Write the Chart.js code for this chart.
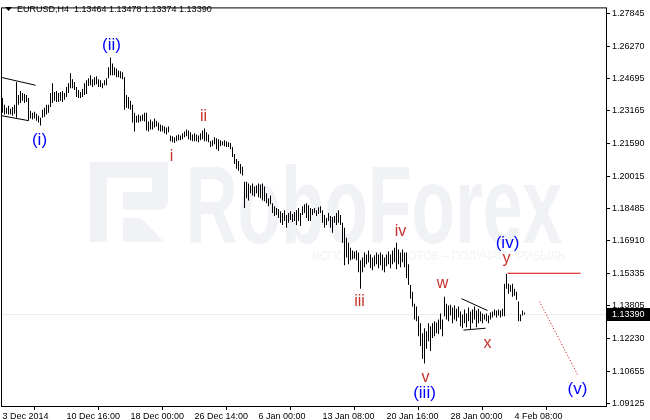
<!DOCTYPE html>
<html>
<head>
<meta charset="utf-8">
<script src="https://cdn.jsdelivr.net/npm/chart.js@4.4.0/dist/chart.umd.min.js"></script>
<style>
  html, body { margin: 0; padding: 0; background: #fff; }
  #wrap { width: 650px; height: 420px; }
</style>
</head>
<body>
<div id="wrap"><canvas id="chart" width="650" height="420"></canvas></div>
<script>
// EURUSD H4 bars (high / low of each bar, oldest first)
var barHigh = [
  1.2378,1.2345,1.2331,1.2340,1.2326,1.2335,1.2345,1.2454,1.2392,1.2411,
  1.2402,1.2397,1.2392,1.2378,1.2317,1.2307,1.2312,1.2302,1.2293,1.2283,
  1.2321,1.2331,1.2345,1.2345,1.2402,1.2449,1.2406,1.2411,1.2402,1.2406,
  1.2411,1.2402,1.2430,1.2449,1.2496,1.2468,1.2454,1.2430,1.2416,1.2406,
  1.2421,1.2449,1.2463,1.2473,1.2487,1.2468,1.2477,1.2482,1.2468,1.2463,
  1.2449,1.2463,1.2473,1.2525,1.2572,1.2543,1.2525,1.2520,1.2510,1.2506,
  1.2501,1.2477,1.2392,1.2383,1.2364,1.2345,1.2307,1.2293,1.2298,1.2293,
  1.2298,1.2307,1.2307,1.2265,1.2274,1.2265,1.2279,1.2269,1.2260,1.2250,
  1.2246,1.2241,1.2236,1.2241,1.2198,1.2194,1.2189,1.2198,1.2203,1.2198,
  1.2208,1.2217,1.2227,1.2222,1.2213,1.2203,1.2208,1.2203,1.2198,1.2208,
  1.2222,1.2231,1.2213,1.2203,1.2170,1.2175,1.2189,1.2184,1.2179,1.2175,
  1.2170,1.2175,1.2170,1.2165,1.2161,1.2142,1.2109,1.2085,1.2075,1.2061,
  1.2047,1.1976,1.1976,1.1967,1.1957,1.1967,1.1953,1.1957,1.1967,1.1962,
  1.1967,1.1953,1.1920,1.1896,1.1910,1.1872,1.1858,1.1849,1.1844,1.1834,
  1.1825,1.1839,1.1816,1.1825,1.1834,1.1820,1.1830,1.1839,1.1849,1.1825,
  1.1858,1.1868,1.1872,1.1863,1.1849,1.1844,1.1849,1.1839,1.1853,1.1858,
  1.1839,1.1816,1.1801,1.1825,1.1811,1.1806,1.1811,1.1825,1.1839,1.1816,
  1.1778,1.1754,1.1707,1.1683,1.1659,1.1645,1.1641,1.1645,1.1636,1.1598,
  1.1612,1.1636,1.1626,1.1645,1.1626,1.1612,1.1622,1.1636,1.1626,1.1636,
  1.1626,1.1612,1.1626,1.1641,1.1626,1.1645,1.1659,1.1683,1.1650,1.1636,
  1.1650,1.1636,1.1636,1.1579,1.1480,1.1447,1.1390,1.1376,1.1329,1.1296,
  1.1248,1.1272,1.1258,1.1296,1.1281,1.1296,1.1305,1.1300,1.1314,1.1343,
  1.1314,1.1423,1.1390,1.1381,1.1385,1.1371,1.1381,1.1366,1.1376,1.1352,
  1.1338,1.1362,1.1343,1.1371,1.1352,1.1362,1.1376,1.1357,1.1366,1.1352,
  1.1343,1.1338,1.1343,1.1333,1.1348,1.1352,1.1362,1.1357,1.1362,1.1357,
  1.1366,1.1485,1.1532,1.1485,1.1480,1.1485,1.1461,1.1447,1.1400,1.1338,
  1.1357,1.13478
];
var barLow = [
  1.2307,1.2298,1.2302,1.2298,1.2298,1.2293,1.2302,1.2283,1.2345,1.2354,
  1.2364,1.2354,1.2359,1.2269,1.2279,1.2274,1.2279,1.2269,1.2260,1.2246,
  1.2283,1.2288,1.2298,1.2307,1.2335,1.2354,1.2364,1.2359,1.2359,1.2364,
  1.2359,1.2369,1.2383,1.2402,1.2425,1.2425,1.2416,1.2383,1.2378,1.2378,
  1.2383,1.2392,1.2397,1.2435,1.2439,1.2430,1.2439,1.2444,1.2430,1.2430,
  1.2425,1.2439,1.2439,1.2473,1.2487,1.2487,1.2487,1.2477,1.2477,1.2473,
  1.2468,1.2321,1.2331,1.2326,1.2321,1.2260,1.2217,1.2260,1.2260,1.2265,
  1.2269,1.2265,1.2222,1.2217,1.2227,1.2227,1.2236,1.2241,1.2222,1.2217,
  1.2217,1.2208,1.2203,1.2213,1.2170,1.2165,1.2161,1.2170,1.2175,1.2175,
  1.2179,1.2189,1.2194,1.2179,1.2175,1.2170,1.2170,1.2170,1.2165,1.2175,
  1.2179,1.2170,1.2170,1.2165,1.2142,1.2146,1.2156,1.2132,1.2123,1.2146,
  1.2151,1.2146,1.2142,1.2142,1.2132,1.2094,1.2061,1.2038,1.2028,1.2014,
  1.2005,1.1849,1.1896,1.1886,1.1920,1.1910,1.1905,1.1920,1.1901,1.1896,
  1.1886,1.1882,1.1872,1.1858,1.1868,1.1825,1.1811,1.1816,1.1801,1.1778,
  1.1768,1.1787,1.1754,1.1778,1.1792,1.1782,1.1787,1.1768,1.1787,1.1763,
  1.1816,1.1825,1.1801,1.1787,1.1787,1.1816,1.1825,1.1811,1.1820,1.1825,
  1.1778,1.1754,1.1768,1.1787,1.1754,1.1730,1.1778,1.1768,1.1778,1.1768,
  1.1683,1.1574,1.1612,1.1579,1.1598,1.1603,1.1607,1.1598,1.1541,1.1461,
  1.1541,1.1565,1.1579,1.1589,1.1560,1.1551,1.1570,1.1579,1.1560,1.1574,
  1.1551,1.1541,1.1570,1.1579,1.1560,1.1579,1.1589,1.1555,1.1579,1.1565,
  1.1589,1.1565,1.1513,1.1480,1.1414,1.1376,1.1314,1.1305,1.1234,1.1187,
  1.1125,1.1102,1.1173,1.1210,1.1163,1.1225,1.1234,1.1248,1.1244,1.1267,
  1.1234,1.1329,1.1314,1.1305,1.1333,1.1296,1.1314,1.1305,1.1324,1.1281,
  1.1272,1.1296,1.1277,1.1305,1.1267,1.1296,1.1314,1.1277,1.1296,1.1305,
  1.1296,1.1314,1.1305,1.1296,1.1314,1.1324,1.1333,1.1324,1.1333,1.1324,
  1.1329,1.1329,1.1461,1.1437,1.1447,1.1423,1.1428,1.1409,1.1305,1.1305,
  1.1333,1.13374
];

// last bar as shown in the header (O H L C)
var lastQuote = [1.13464, 1.13478, 1.13374, 1.13390];

// time axis: bar number of each label and its text
var timeTicks = [0, 32, 64, 96, 128, 160, 192, 224, 256];
var timeLabels = ["3 Dec 2014", "10 Dec 16:00", "18 Dec 00:00", "26 Dec 14:00", "6 Jan 00:00",
                  "13 Jan 08:00", "20 Jan 16:00", "28 Jan 00:00", "4 Feb 08:00"];

// price axis labels
var priceTicks = [1.27845, 1.26270, 1.24695, 1.23165, 1.21590, 1.20015, 1.18485,
                  1.16910, 1.15335, 1.13805, 1.12230, 1.10655, 1.09125];

// wave marks: text, bar number, price, degree
var waveText  = ["(i)", "(ii)", "(iii)", "(iv)", "(v)", "i", "ii", "iii", "iv", "v", "w", "x", "y"];
var waveBar   = [18.5, 54.5, 211, 252.5, 287.5, 84.5, 100.5, 178.5, 199, 211.5, 220, 242.5, 252];
var wavePrice = [1.2175, 1.2629, 1.0960, 1.1678, 1.0979, 1.2094, 1.2288, 1.1400, 1.1735, 1.1036, 1.1485, 1.1196, 1.1607];
var waveMinor = [false, false, false, false, false, true, true, true, true, true, true, true, true];

// drawn objects (bar number, price)
var channelTop    = [[-0.75, 1.2477], [16.5, 1.2439]];
var channelBottom = [[-0.75, 1.2293], [13, 1.2269]];
var triangleTop    = [[229.5, 1.1414], [242.5, 1.1357]];
var triangleBottom = [[230.5, 1.1263], [241.5, 1.1272]];
var levelY        = [[252.5, 1.1536], [289, 1.1536]];
var targetPath    = [[268.5, 1.1400], [287.5, 1.1050]];

var bars = [];
for (var i = 0; i < barHigh.length; ++i)
{
    bars.push({x: i, y: [barLow[i], barHigh[i]]});
}

var FONT = "'Liberation Sans', Arial, sans-serif";
var BLUE = "#0000ff";
var RED = "#c8302c";

function drawSeg(ctx, xs, ys, seg)
{
    ctx.beginPath();
    ctx.moveTo(xs.getPixelForValue(seg[0][0]), ys.getPixelForValue(seg[0][1]));
    ctx.lineTo(xs.getPixelForValue(seg[1][0]), ys.getPixelForValue(seg[1][1]));
    ctx.stroke();
}

function drawWatermark(ctx)
{
    var col = "#f0f2f6";
    ctx.save();
    ctx.fillStyle = col;
    // logo block
    ctx.fillRect(90, 162, 17, 80);
    ctx.fillRect(107, 162, 61, 16);
    ctx.fillRect(152, 162, 16, 40);
    ctx.beginPath();
    ctx.moveTo(123, 192); ctx.lineTo(168, 192); ctx.lineTo(168, 200);
    ctx.quadraticCurveTo(168, 210, 158, 210); ctx.lineTo(123, 210);
    ctx.closePath(); ctx.fill();
    ctx.beginPath();
    ctx.moveTo(123, 218); ctx.lineTo(141, 218); ctx.lineTo(164, 242); ctx.lineTo(123, 242);
    ctx.closePath(); ctx.fill();

    // brand name
    ctx.font = "bold 100px " + FONT;
    ctx.textBaseline = "alphabetic";
    ctx.textAlign = "left";
    var w = ctx.measureText("RoboForex").width;
    ctx.translate(186, 243);
    ctx.scale(376 / w, 1.1);
    ctx.fillText("RoboForex", 0, 0);
    ctx.restore();

    ctx.save();
    ctx.fillStyle = "#f1f3f6";
    ctx.font = "13px " + FONT;
    ctx.textBaseline = "middle";
    var s = "ИСПОЛЬЗУЙ РОБОТОВ – ПОЛУЧАЙ ПРИБЫЛЬ";
    var sw = ctx.measureText(s).width;
    ctx.translate(312, 256);
    ctx.scale(253 / sw, 1);
    ctx.fillText(s, 0, 0);
    ctx.restore();
}

var mtOverlay = {
    id: "mtOverlay",
    beforeDraw: function(chart){
        var ctx = chart.ctx;
        ctx.save();
        ctx.fillStyle = "#fff";
        ctx.fillRect(0, 0, chart.width, chart.height);
        ctx.restore();
    },
    beforeDatasetsDraw: function(chart){
        var ctx = chart.ctx, a = chart.chartArea;
        var ys = chart.scales.y;
        drawWatermark(ctx);
        // bid line
        var yb = Math.round(ys.getPixelForValue(lastQuote[3])) + 0.5;
        ctx.save();
        ctx.strokeStyle = "#ececec";
        ctx.lineWidth = 1;
        ctx.beginPath();
        ctx.moveTo(a.left, yb); ctx.lineTo(a.right, yb);
        ctx.stroke();
        ctx.restore();
    },
    afterDatasetsDraw: function(chart){
        var ctx = chart.ctx;
        var xs = chart.scales.x, ys = chart.scales.y;
        ctx.save();
        ctx.lineWidth = 1;
        ctx.strokeStyle = "#000";
        drawSeg(ctx, xs, ys, channelTop);
        drawSeg(ctx, xs, ys, channelBottom);
        drawSeg(ctx, xs, ys, triangleTop);
        drawSeg(ctx, xs, ys, triangleBottom);
        ctx.strokeStyle = "#e00000";
        drawSeg(ctx, xs, ys, levelY);
        ctx.setLineDash([1, 2]);
        drawSeg(ctx, xs, ys, targetPath);
        ctx.setLineDash([]);

        ctx.textAlign = "center";
        ctx.textBaseline = "middle";
        for (var k = 0; k < waveText.length; ++k)
        {
            ctx.fillStyle = waveMinor[k] ? RED : BLUE;
            ctx.font = (waveMinor[k] ? "16px " : "17px ") + FONT;
            ctx.fillText(waveText[k], xs.getPixelForValue(waveBar[k]), ys.getPixelForValue(wavePrice[k]));
        }
        ctx.restore();
    },
    afterDraw: function(chart){
        var ctx = chart.ctx, a = chart.chartArea;
        var ys = chart.scales.y;
        ctx.save();
        // frame
        ctx.strokeStyle = "#000";
        ctx.lineWidth = 1;
        ctx.strokeRect(a.left + 0.5, a.top + 0.5, a.right - a.left, a.bottom - a.top);

        // header
        ctx.fillStyle = "#000";
        ctx.beginPath();
        ctx.moveTo(5, 7); ctx.lineTo(12, 7); ctx.lineTo(8.5, 11);
        ctx.closePath(); ctx.fill();
        ctx.font = "9px " + FONT;
        ctx.textAlign = "left";
        ctx.textBaseline = "middle";
        ctx.fillText("EURUSD,H4  " + lastQuote.map(function(v){ return v.toFixed(5); }).join(" "), 17, 9.5);

        // bid label
        var yb = Math.round(ys.getPixelForValue(lastQuote[3]));
        ctx.fillRect(a.right + 1, yb - 6, chart.width - a.right - 1, 13);
        ctx.fillStyle = "#fff";
        ctx.fillText(lastQuote[3].toFixed(5), a.right + 6, yb + 0.5);
        ctx.restore();
    }
};

var ctx = document.getElementById("chart").getContext("2d");
var chart = new Chart(ctx, {
    type: "bar",
    data: {
        datasets: [{
            data: bars,
            backgroundColor: "#000",
            borderWidth: 0,
            barThickness: 1,
            inflateAmount: 0
        }]
    },
    options: {
        responsive: false,
        animation: false,
        events: [],
        devicePixelRatio: 1,
        layout: { padding: { left: 1, top: 1, right: 0, bottom: 0 } },
        plugins: { legend: { display: false }, tooltip: { enabled: false } },
        scales: {
            x: {
                type: "linear",
                min: -0.75,
                max: 301.75,
                offset: false,
                afterBuildTicks: function(scale){
                    scale.ticks = timeTicks.map(function(v){ return {value: v}; });
                },
                afterFit: function(scale){ scale.height = 14; },
                grid: { drawOnChartArea: false, drawTicks: true, tickLength: 4, color: "#000" },
                border: { display: false },
                ticks: {
                    autoSkip: false,
                    maxRotation: 0,
                    align: "start",
                    padding: 1,
                    color: "#000",
                    font: { family: FONT, size: 9 },
                    callback: function(v){
                        var k = timeTicks.indexOf(v);
                        return k < 0 ? "" : timeLabels[k];
                    }
                }
            },
            y: {
                position: "right",
                min: 1.089843,
                max: 1.281286,
                afterBuildTicks: function(scale){
                    scale.ticks = priceTicks.map(function(v){ return {value: v}; });
                },
                afterFit: function(scale){ scale.width = 44; },
                grid: { drawOnChartArea: false, drawTicks: true, tickLength: 4, color: "#000" },
                border: { display: false },
                ticks: {
                    autoSkip: false,
                    padding: 2,
                    color: "#000",
                    font: { family: FONT, size: 9 },
                    callback: function(v){ return v.toFixed(5); }
                }
            }
        }
    },
    plugins: [mtOverlay]
});
</script>
</body>
</html>
